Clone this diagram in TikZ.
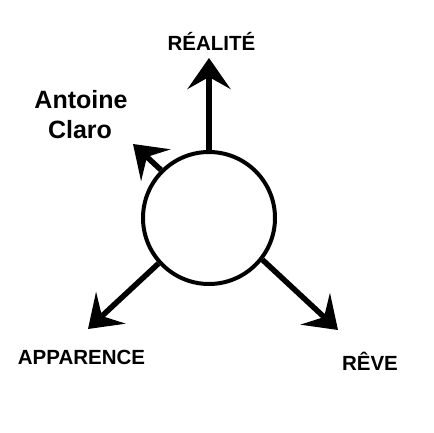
\documentclass[tikz,border=0pt]{standalone}
\usepackage{fontspec}
\setmainfont{Liberation Sans}
\usetikzlibrary{arrows.meta}
\begin{document}
\begin{tikzpicture}[x=1pt,y=-1pt,
  lbl/.style={font=\bfseries\fontsize{20.5}{24}\selectfont, anchor=base, inner sep=0pt},
  biglbl/.style={font=\bfseries\fontsize{25}{30}\selectfont, anchor=base, inner sep=0pt},
  arr/.style={line width=5.5pt, -{Stealth[length=31pt,width=43pt,inset=12pt]}}]
\useasboundingbox (0,0) rectangle (433,433);
\node[draw, circle, line width=4pt, minimum size=132pt, inner sep=0pt] (c) at (209,218) {};
\coordinate (tu) at (209,58);
\coordinate (tl) at (88,329);
\coordinate (tr) at (338,330);
\coordinate (ts) at (133,144);
\draw[arr] (c.90) -- (tu);
\draw[arr] (c.222) -- (tl);
\draw[arr] (c.-38) -- (tr);
\draw[arr] (c.135) -- (ts);
\node[lbl] (real) at (211.5,51) {RÉALITÉ};
\node[biglbl] (ant) at (81,108) {Antoine};
\node[biglbl] (cla) at (80,138) {Claro};
\node[lbl] (app) at (81.5,364) {APPARENCE};
\node[lbl] (rev) at (370,370) {RÊVE};
\end{tikzpicture}
\end{document}
